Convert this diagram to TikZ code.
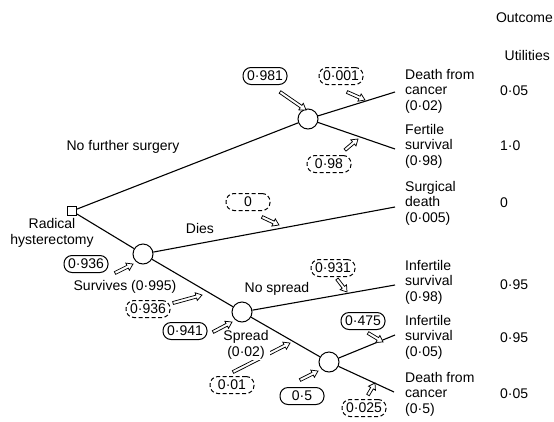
\documentclass[tikz,border=0pt]{standalone}
\usepackage{fontspec}
\setmainfont{Liberation Sans}
\usetikzlibrary{calc}
\tikzset{
  pics/harrow/.style={code={\draw[line width=0.75pt, fill=white, line join=miter]
     (0,-1.5) -- (#1-6,-1.5) -- (#1-6,-4) -- (#1,0) -- (#1-6,4) -- (#1-6,1.5) -- (0,1.5) -- cycle;}},
  br/.style={line width=1.1pt},
  sqn/.style={draw, line width=1pt, minimum size=9pt, inner sep=0pt, fill=white},
  cn/.style={circle, draw, line width=1pt, minimum size=20pt, inner sep=0pt, fill=white},
  pb/.style={draw, line width=1pt, rounded corners=8pt, minimum width=44pt, minimum height=17pt, inner sep=1pt, fill=white},
  pbd/.style={pb, dash pattern=on 4pt off 2.5pt},
  lab/.style={inner sep=0pt},
  outc/.style={anchor=west, align=left, inner sep=0pt},
  utl/.style={anchor=west, inner sep=0pt}
}
\newcommand\harr[2]{\path let \p1=(#1), \p2=(#2), \n1={atan2(\y2-\y1,\x2-\x1)}, \n2={veclen(\x2-\x1,\y2-\y1)} in (\p1) pic[rotate=\n1] {harrow=\n2};}
\begin{document}
\begin{tikzpicture}[x=1pt,y=-1pt,font=\fontsize{14}{15.5}\selectfont]
\useasboundingbox (0,0) rectangle (554,421);
% end points
\coordinate (e1) at (395,92);
\coordinate (e2) at (395,149);
\coordinate (e3) at (395,207);
\coordinate (e4) at (395,285);
\coordinate (e5) at (395,335);
\coordinate (e6) at (394,392);
% nodes
\node[sqn] (sq) at (72,211) {};
\node[cn] (c1) at (308,119) {};
\node[cn] (c2) at (143,254) {};
\node[cn] (c3) at (242,312) {};
\node[cn] (c4) at (329,362) {};
% branches
\draw[br] (sq) -- (c1);
\draw[br] (sq) -- (c2);
\draw[br] (c2) -- (c3);
\draw[br] (c3) -- (c4);
\draw[br] (c1) -- (e1);
\draw[br] (c1) -- (e2);
\draw[br] (c2) -- (e3);
\draw[br] (c3) -- (e4);
\draw[br] (c4) -- (e5);
\draw[br] (c4) -- (e6);
% hollow arrows
\harr{280,92}{306,110}
\harr{347,92}{365,100}
\harr{345,150}{358,139}
\harr{262,217}{279,225}
\harr{115,273}{133,264}
\harr{173,303}{202,295}
\harr{337,279}{347,292}
\harr{213,332}{232,322}
\harr{233,372}{290,343}
\harr{368,333}{383,342}
\harr{300,380}{318,371}
\harr{368,395}{375,383}
% branch labels
\node[lab] (nfs) at (123,147) {No further surgery};
\node[lab, align=center] (rh) at (52,233) {Radical\\hysterectomy};
\node[lab] (dies) at (200,228) {Dies};
\node[lab] (surv) at (125,287) {Survives (0·995)};
\node[lab] (nsp) at (277,289) {No spread};
\node[lab, align=center, fill=white, inner sep=1pt] (spr) at (246,345) {Spread\\(0·02)};
% probability boxes
\node[pb]  (b1) at (265,76) {0·981};
\node[pbd] (b2) at (341,76) {0·001};
\node[pbd] (b3) at (329,164) {0·98};
\node[pbd] (b4) at (248,202) {0};
\node[pb]  (b5) at (86,264) {0·936};
\node[pbd] (b6) at (148,309) {0·936};
\node[pbd] (b7) at (333,268) {0·931};
\node[pb]  (b8) at (185,331) {0·941};
\node[pb]  (b9) at (363,321) {0·475};
\node[pbd] (b10) at (232,385) {0·01};
\node[pb]  (b11) at (302,396) {0·5};
\node[pbd] (b12) at (364,408) {0·025};
% outcomes
\node[outc] (o1) at (405,91) {Death from\\cancer\\(0·02)};
\node[outc] (o2) at (405,146) {Fertile\\survival\\(0·98)};
\node[outc] (o3) at (405,203) {Surgical\\death\\(0·005)};
\node[outc] (o4) at (405,282) {Infertile\\survival\\(0·98)};
\node[outc] (o5) at (405,337) {Infertile\\survival\\(0·05)};
\node[outc] (o6) at (405,394) {Death from\\cancer\\(0·5)};
% utilities
\node[lab, anchor=east] (hd1) at (553,18) {Outcome};
\node[lab, anchor=east] (hd2) at (550,55) {Utilities};
\node[utl] (u1) at (500,91) {0·05};
\node[utl] (u2) at (500,146) {1·0};
\node[utl] (u3) at (500,203) {0};
\node[utl] (u4) at (500,285) {0·95};
\node[utl] (u5) at (500,338) {0·95};
\node[utl] (u6) at (500,394) {0·05};
\end{tikzpicture}
\end{document}
